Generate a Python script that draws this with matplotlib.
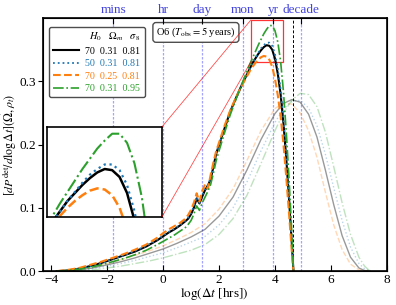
import numpy as np
import matplotlib.pyplot as plt
from matplotlib.patches import Rectangle, ConnectionPatch

plt.rcParams['font.family'] = ['Liberation Serif', 'DejaVu Serif']
plt.rcParams['mathtext.fontset'] = 'stix'

# main curves (detected, O6)
x_main = [-3.8, -3.4, -3.0, -2.6, -2.2, -1.8, -1.4, -1.0, -0.6, -0.2, 0.0, 0.2, 0.4,
          0.6, 0.8, 0.9, 1.0, 1.1, 1.2, 1.3, 1.4, 1.5, 1.6, 1.7, 1.8, 1.9, 2.0, 2.2,
          2.4, 2.6, 2.8, 2.9, 3.0, 3.1, 3.2, 3.3, 3.4, 3.5, 3.6, 3.7, 3.8, 3.9, 4.0,
          4.1, 4.2, 4.3, 4.4, 4.5, 4.6, 4.66]
y_black = [0.0, 0.001, 0.004, 0.008, 0.013, 0.019, 0.025, 0.031, 0.039, 0.049, 0.055,
           0.061, 0.066, 0.072, 0.079, 0.083, 0.090, 0.100, 0.115, 0.107, 0.118, 0.128,
           0.135, 0.145, 0.165, 0.186, 0.199, 0.226, 0.252, 0.273, 0.293, 0.302, 0.311,
           0.320, 0.329, 0.336, 0.343, 0.349, 0.354, 0.357, 0.356, 0.350, 0.336, 0.312,
           0.280, 0.235, 0.180, 0.115, 0.045, 0.0]
y_blue = [0.0, 0.001, 0.004, 0.008, 0.013, 0.019, 0.025, 0.032, 0.040, 0.050, 0.056,
          0.062, 0.067, 0.073, 0.080, 0.085, 0.092, 0.102, 0.117, 0.108, 0.120, 0.130,
          0.136, 0.147, 0.166, 0.186, 0.199, 0.226, 0.251, 0.272, 0.292, 0.302, 0.311,
          0.320, 0.329, 0.337, 0.345, 0.352, 0.357, 0.361, 0.361, 0.356, 0.343, 0.320,
          0.288, 0.243, 0.188, 0.122, 0.050, 0.0]
y_orange = [0.0, 0.002, 0.005, 0.010, 0.015, 0.021, 0.027, 0.034, 0.042, 0.053, 0.060,
            0.066, 0.071, 0.076, 0.083, 0.089, 0.097, 0.108, 0.123, 0.110, 0.127, 0.137,
            0.130, 0.152, 0.172, 0.190, 0.203, 0.230, 0.254, 0.274, 0.292, 0.300, 0.308,
            0.316, 0.323, 0.329, 0.334, 0.338, 0.340, 0.339, 0.334, 0.323, 0.304, 0.278,
            0.245, 0.202, 0.150, 0.092, 0.032, 0.0]
y_green = [0.0, 0.001, 0.003, 0.006, 0.010, 0.015, 0.020, 0.026, 0.033, 0.042, 0.047,
           0.052, 0.057, 0.063, 0.069, 0.074, 0.080, 0.090, 0.103, 0.096, 0.108, 0.117,
           0.126, 0.137, 0.155, 0.175, 0.190, 0.219, 0.247, 0.271, 0.294, 0.305, 0.316,
           0.327, 0.337, 0.347, 0.357, 0.366, 0.375, 0.382, 0.388, 0.388, 0.380, 0.362,
           0.332, 0.285, 0.222, 0.148, 0.062, 0.0]

# faint curves (intrinsic)
x_faint = [-3.6, -3.0, -2.5, -2.0, -1.5, -1.0, -0.5, 0.0, 0.5, 1.0, 1.5, 2.0, 2.5, 3.0,
           3.5, 4.0, 4.3, 4.6, 4.9, 5.2, 5.5, 5.8, 6.1, 6.4, 6.7, 7.0, 7.2, 7.4]
f_black = [0, 0.002, 0.005, 0.010, 0.015, 0.021, 0.028, 0.035, 0.044, 0.054, 0.066, 0.087,
           0.117, 0.160, 0.208, 0.249, 0.265, 0.271, 0.267, 0.248, 0.212, 0.160, 0.105,
           0.056, 0.022, 0.005, 0.001, 0.0]
f_orange = [0, 0.003, 0.007, 0.012, 0.018, 0.025, 0.032, 0.040, 0.050, 0.061, 0.075, 0.098,
            0.130, 0.175, 0.222, 0.257, 0.266, 0.264, 0.250, 0.222, 0.180, 0.125, 0.073,
            0.034, 0.011, 0.002, 0.0, 0.0]
f_blue = [0, 0.001, 0.004, 0.008, 0.012, 0.017, 0.023, 0.029, 0.037, 0.046, 0.055, 0.073,
          0.100, 0.141, 0.190, 0.235, 0.256, 0.268, 0.270, 0.258, 0.230, 0.185, 0.132,
          0.080, 0.038, 0.012, 0.004, 0.0]
f_green = [0, 0.001, 0.002, 0.005, 0.008, 0.012, 0.016, 0.021, 0.027, 0.033, 0.042, 0.058,
           0.083, 0.120, 0.170, 0.222, 0.250, 0.270, 0.281, 0.279, 0.260, 0.220, 0.165,
           0.108, 0.058, 0.022, 0.008, 0.0]

labels = ['70  0.31  0.81', '50  0.31  0.81', '70  0.25  0.81', '70  0.31  0.95']
colors = ['black', '#1f77b4', '#ff7f0e', '#2ca02c']
styles = ['-', ':', '--', '-.']

unit_names = ['mins', 'hr', 'day', 'mon', 'yr', 'decade']
unit_pos = [-1.778, 0.0, 1.380, 2.857, 3.943, 4.943]
t_obs = 4.642

fig = plt.figure(figsize=(3.96, 3.05), dpi=100)
ax = fig.add_axes([0.108, 0.111, 0.869, 0.830])

mains = [y_black, y_blue, y_orange, y_green]
faints = [f_black, f_blue, f_orange, f_green]
for i in range(4):
    a = 0.4 if i == 0 else 0.3
    ax.plot(x_faint, faints[i], color=colors[i], ls=styles[i], lw=1.0, alpha=a)
lws = [1.5, 1.3, 1.5, 1.2]
for i in range(4):
    ax.plot(x_main, mains[i], color=colors[i], ls=styles[i], lw=lws[i], label=labels[i])

for p in unit_pos:
    ax.axvline(p, color='#5a5aff', ls=(0, (2, 1.2)), lw=0.9, alpha=0.55, zorder=0)
ax.axvline(t_obs, color='black', ls=(0, (3, 2)), lw=0.7, zorder=0)

ax.set_xlim(-4.3, 8)
ax.set_ylim(0, 0.40)
ax.set_xticks([-4, -2, 0, 2, 4, 6, 8])
ax.set_yticks([0.0, 0.1, 0.2, 0.3])
ax.tick_params(axis='x', direction='in', labelsize=9.5, length=4, pad=2)
ax.tick_params(axis='y', direction='out', labelsize=9.5, length=3.5, pad=1.5)
for s in ax.spines.values():
    s.set_linewidth(1.2)
ax.set_xlabel(r'$\log(\Delta t$ [hrs]$)$', fontsize=9.5, labelpad=0)
ax.set_ylabel(r'$[dP^{\rm det}/d\log\Delta t](\vec{\Omega},\rho_t)$', fontsize=8.6, labelpad=0)

top = ax.twiny()
top.set_xlim(ax.get_xlim())
top.set_xticks(unit_pos)
top.set_xticklabels(unit_names, color='#4444dd', fontsize=9.5)
top.tick_params(axis='x', direction='in', length=4, pad=1.5)

leg = ax.legend(loc='upper left', bbox_to_anchor=(0.005, 0.985), fontsize=7.2,
                title=r'$H_0$   $\Omega_m$   $\sigma_8$', title_fontsize=7.5,
                handlelength=2.6, fancybox=True, edgecolor='0.3', framealpha=1,
                borderpad=0.4, labelspacing=0.35, handletextpad=0.6)
leg._legend_box.align = 'right'
for t, c in zip(leg.get_texts(), colors):
    t.set_color(c)

ax.text(0.445, 0.943, r'O6 ($T_{\rm obs}=5$ years)', transform=ax.transAxes,
        ha='center', va='center', fontsize=7.5,
        bbox=dict(boxstyle='round,pad=0.3', fc='white', ec='0.3'))

# zoom box
rx0, rx1, ry0, ry1 = 3.14, 4.29, 0.331, 0.397
ax.add_patch(Rectangle((rx0, ry0), rx1 - rx0, ry1 - ry0, fill=False, ec='red', lw=0.9, alpha=0.8))

ins = fig.add_axes([0.118, 0.289, 0.291, 0.295])
for i in range(4):
    ins.plot(x_main, mains[i], color=colors[i], ls=styles[i], lw=lws[i] + 0.3)
ins.set_xlim(2.92, 4.47)
ins.set_ylim(0.315, 0.394)
ins.set_xticks([])
ins.set_yticks([])
for s in ins.spines.values():
    s.set_linewidth(1.2)

for (xa, ya), (xb, yb) in [((rx0, ry1), (1, 1)), ((rx0, ry0), (1, 0))]:
    con = ConnectionPatch(xyA=(xa, ya), coordsA=ax.transData, xyB=(xb, yb),
                          coordsB=ins.transAxes, color='red', lw=0.6, alpha=0.7)
    fig.add_artist(con)

fig.savefig('out.png', dpi=100)
